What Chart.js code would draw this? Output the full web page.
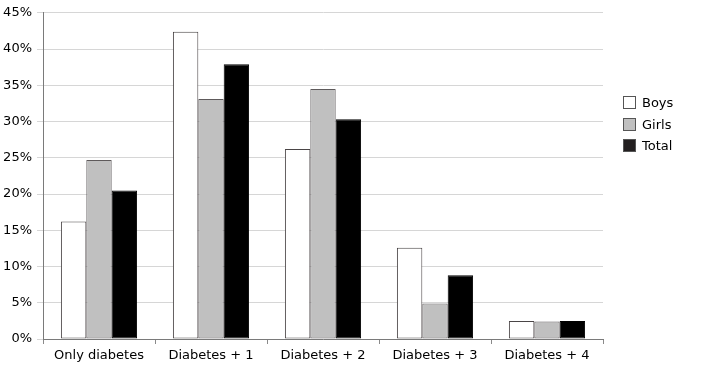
<!DOCTYPE html>
<html>
<head>
<meta charset="utf-8">
<script src="https://cdn.jsdelivr.net/npm/chart.js@4"></script>
<style>
  html, body { margin: 0; padding: 0; background: #fff; }
  #wrap { position: relative; width: 710px; height: 368px; }
  #legend { position: absolute; left: 623px; top: 92px; font: 13px "DejaVu Sans", sans-serif; color: #000; }
  #legend div { display: flex; align-items: center; height: 21.5px; }
  #legend span.sw { display: inline-block; width: 13px; height: 13px; margin-right: 6px; box-sizing: border-box; border: 1px solid #555; }
</style>
</head>
<body>
<div id="wrap">
  <canvas id="chart" width="710" height="368"></canvas>
  <div id="legend"></div>
</div>
<script>
// valores (%)
const categorias = ["Only diabetes", "Diabetes + 1", "Diabetes + 2", "Diabetes + 3", "Diabetes + 4"];
const boys  = [16.2, 42.4, 26.2, 12.6, 2.5];
const girls = [24.7, 33.1, 34.5, 4.9, 2.4];
const total = [20.5, 37.9, 30.3, 8.8, 2.5];
const yTicks = [0, 5, 10, 15, 20, 25, 30, 35, 40, 45];

const series = [
    { label: "Boys",  data: boys,  bg: "#ffffff", bd: "#4a4546", sw: "#ffffff" },
    { label: "Girls", data: girls, bg: "#c0c0c0", bd: "#5e5a5b", sw: "#c0c0c0" },
    { label: "Total", data: total, bg: "#000000", bd: "#000000", sw: "#231f20" }
];

const FONT = { family: "'DejaVu Sans', Verdana, sans-serif", size: 13 };

new Chart(document.getElementById('chart'), {
    type: 'bar',
    data: {
        labels: categorias,
        datasets: series.map(s => ({
            label: s.label, data: s.data,
            backgroundColor: s.bg, borderColor: s.bd, borderWidth: 1, borderSkipped: false,
            barPercentage: 1, categoryPercentage: 0.68
        }))
    },
    options: {
        responsive: false, animation: false,
        layout: { padding: { top: 7, right: 107, left: 0, bottom: 0 } },
        plugins: { legend: { display: false }, tooltip: { enabled: false } },
        scales: {
            x: {
                grid: { offset: true, drawOnChartArea: false, drawTicks: true, tickLength: 5, color: '#8a8a8a' },
                border: { color: '#7a7a7a', width: 1 },
                ticks: { color: '#000', font: FONT, padding: 4, maxRotation: 0 },
                afterFit: s => { s.height = 29; }
            },
            y: {
                min: 0, max: 45,
                afterBuildTicks: s => { s.ticks = yTicks.map(v => ({ value: v })); },
                grid: { color: '#d6d6d6', tickLength: 6, tickColor: '#d6d6d6' },
                border: { color: '#7a7a7a', width: 1 },
                ticks: { color: '#000', font: FONT, padding: 5, callback: v => v + '%' },
                afterFit: s => { s.width = 43; }
            }
        }
    }
});

document.getElementById('legend').innerHTML = series.map(s =>
    `<div><span class="sw" style="background:${s.sw}"></span>${s.label}</div>`).join('');
</script>
</body>
</html>
